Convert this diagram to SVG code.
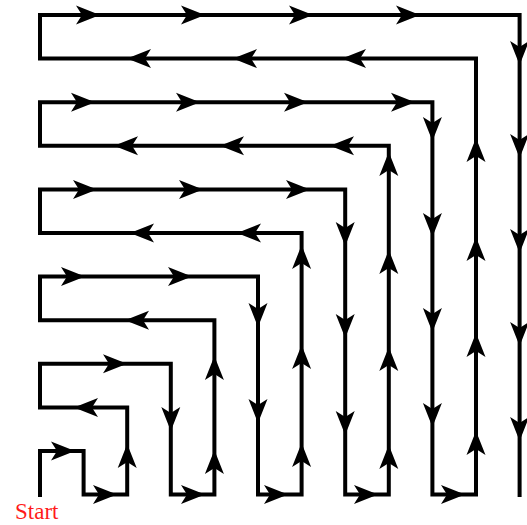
<svg xmlns="http://www.w3.org/2000/svg" xmlns:xlink="http://www.w3.org/1999/xlink" width="527" height="525" viewBox="0 0 527 525">
<style>
.p{fill:none;stroke:#000;stroke-width:4;stroke-linejoin:miter;stroke-linecap:butt}
.lbl{font-family:"Liberation Serif","Times New Roman",serif;font-size:23px;fill:#ff1a1a}
</style>
<defs>
<path id="r" d="M0,0 L-24,-9.5 L-18,0 L-24,9.5 Z" fill="#000"/>
</defs>
<rect width="527" height="525" fill="#fff"/>
<g id="connectors">
<path class="p" d="M40,497 V451 H83.6 V494.6 H127.2 V407.4 H40 V363.8 H170.8 V494.6 H214.4 V320.2 H40 V276.6 H258 V494.6 H301.6 V233 H40 V189.4 H345.2 V494.6 H388.8 V145.8 H40 V102.2 H432.4 V494.6 H476 V58.6 H40 V15 H519.6 V497"/>
<g id="arrows">
<use xlink:href="#r" x="100" y="15"/><use xlink:href="#r" x="205" y="15"/><use xlink:href="#r" x="313" y="15"/><use xlink:href="#r" x="420" y="15"/>
<use xlink:href="#r" x="95" y="102.2"/><use xlink:href="#r" x="200" y="102.2"/><use xlink:href="#r" x="308" y="102.2"/><use xlink:href="#r" x="415" y="102.2"/>
<use xlink:href="#r" x="97" y="189.4"/><use xlink:href="#r" x="203" y="189.4"/><use xlink:href="#r" x="310" y="189.4"/>
<use xlink:href="#r" x="85" y="276.6"/><use xlink:href="#r" x="192" y="276.6"/>
<use xlink:href="#r" x="127" y="363.8"/>
<use xlink:href="#r" x="75" y="451"/>
<use xlink:href="#r" x="117" y="494.6"/><use xlink:href="#r" x="205" y="494.6"/><use xlink:href="#r" x="288" y="494.6"/><use xlink:href="#r" x="378" y="494.6"/><use xlink:href="#r" x="465" y="494.6"/>
<use xlink:href="#r" transform="translate(127,58.6) rotate(180)"/>
<use xlink:href="#r" transform="translate(233,58.6) rotate(180)"/>
<use xlink:href="#r" transform="translate(342,58.6) rotate(180)"/>
<use xlink:href="#r" transform="translate(114,145.8) rotate(180)"/>
<use xlink:href="#r" transform="translate(220,145.8) rotate(180)"/>
<use xlink:href="#r" transform="translate(330,145.8) rotate(180)"/>
<use xlink:href="#r" transform="translate(130,233) rotate(180)"/>
<use xlink:href="#r" transform="translate(237,233) rotate(180)"/>
<use xlink:href="#r" transform="translate(125,320.2) rotate(180)"/>
<use xlink:href="#r" transform="translate(74,407.4) rotate(180)"/>
<use xlink:href="#r" transform="translate(127.2,444) rotate(-90)"/>
<use xlink:href="#r" transform="translate(170.8,431) rotate(90)"/>
<use xlink:href="#r" transform="translate(214.4,356) rotate(-90)"/>
<use xlink:href="#r" transform="translate(214.4,450) rotate(-90)"/>
<use xlink:href="#r" transform="translate(258,327) rotate(90)"/>
<use xlink:href="#r" transform="translate(258,423) rotate(90)"/>
<use xlink:href="#r" transform="translate(301.6,245) rotate(-90)"/>
<use xlink:href="#r" transform="translate(301.6,345) rotate(-90)"/>
<use xlink:href="#r" transform="translate(301.6,443) rotate(-90)"/>
<use xlink:href="#r" transform="translate(345.2,246) rotate(90)"/>
<use xlink:href="#r" transform="translate(345.2,338) rotate(90)"/>
<use xlink:href="#r" transform="translate(345.2,435) rotate(90)"/>
<use xlink:href="#r" transform="translate(388.8,152) rotate(-90)"/>
<use xlink:href="#r" transform="translate(388.8,250) rotate(-90)"/>
<use xlink:href="#r" transform="translate(388.8,347) rotate(-90)"/>
<use xlink:href="#r" transform="translate(388.8,445) rotate(-90)"/>
<use xlink:href="#r" transform="translate(432.4,141) rotate(90)"/>
<use xlink:href="#r" transform="translate(432.4,237) rotate(90)"/>
<use xlink:href="#r" transform="translate(432.4,332) rotate(90)"/>
<use xlink:href="#r" transform="translate(432.4,427) rotate(90)"/>
<use xlink:href="#r" transform="translate(476,138) rotate(-90)"/>
<use xlink:href="#r" transform="translate(476,237) rotate(-90)"/>
<use xlink:href="#r" transform="translate(476,333) rotate(-90)"/>
<use xlink:href="#r" transform="translate(476,431) rotate(-90)"/>
<use xlink:href="#r" transform="translate(519.6,65) rotate(90)"/>
<use xlink:href="#r" transform="translate(519.6,158) rotate(90)"/>
<use xlink:href="#r" transform="translate(519.6,253) rotate(90)"/>
<use xlink:href="#r" transform="translate(519.6,346) rotate(90)"/>
<use xlink:href="#r" transform="translate(519.6,441) rotate(90)"/>
</g>
</g>
<g id="start">
<text class="lbl" x="15" y="519">Start</text>
</g>
</svg>
